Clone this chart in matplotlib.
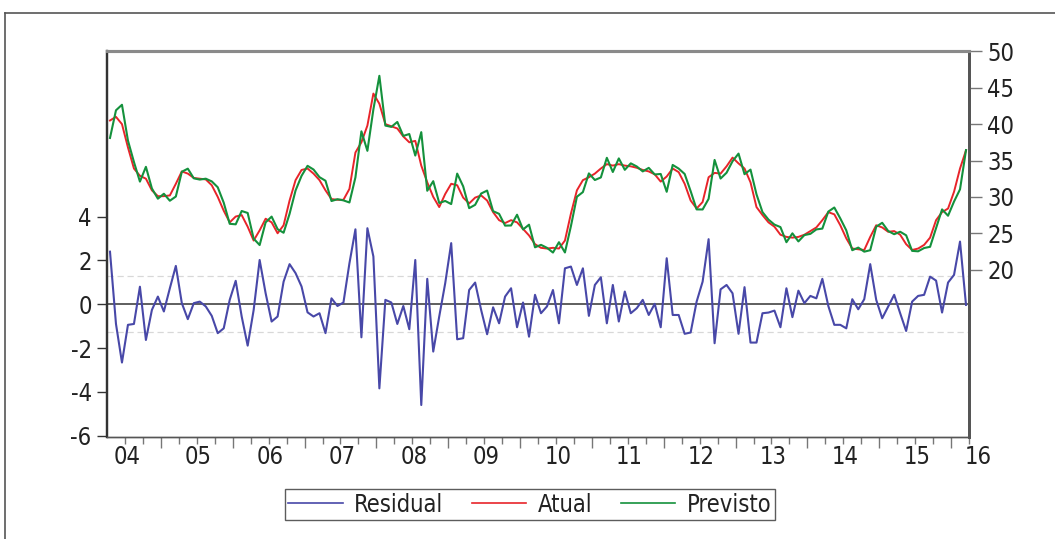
import os
import matplotlib
matplotlib.use("Agg")
import matplotlib.pyplot as plt
from matplotlib import font_manager
from matplotlib.lines import Line2D
import numpy as np

# monthly series, 2004M04 .. 2016M03
atual = [
    40.5, 41.0, 40.0, 36.8, 33.9, 32.9, 32.5, 30.9, 30.1, 30.1,
    30.2, 31.8, 33.5, 33.2, 32.6, 32.5, 32.4, 31.6, 30.0, 28.1,
    26.5, 27.3, 27.5, 25.9, 24.0, 25.4, 27.0, 26.5, 25.0, 26.1,
    29.5, 32.3, 33.7, 33.9, 33.2, 32.3, 30.9, 29.7, 29.6, 29.6,
    31.1, 36.1, 37.5, 39.8, 44.2, 42.8, 40.0, 39.7, 39.4, 38.3,
    37.5, 37.7, 34.3, 32.0, 30.0, 28.6, 30.4, 31.8, 31.6, 29.9,
    29.1, 29.9, 30.2, 29.5, 27.9, 26.8, 26.4, 26.8, 26.5, 25.6,
    24.7, 23.5, 23.0, 22.9, 23.0, 22.9, 24.0, 27.7, 30.9, 32.3,
    32.7, 33.2, 33.9, 34.5, 34.3, 34.5, 34.3, 34.2, 34.0, 33.7,
    33.5, 33.1, 32.1, 32.8, 33.9, 33.4, 31.8, 29.5, 28.4, 29.3,
    32.7, 33.3, 33.2, 34.2, 35.4, 34.6, 33.9, 32.0, 28.6, 27.5,
    26.5, 25.9, 24.8, 24.5, 24.4, 24.5, 24.8, 25.3, 25.8, 26.8,
    27.9, 27.6, 26.1, 24.3, 22.9, 22.8, 22.7, 24.5, 26.1, 25.8,
    25.2, 25.3, 24.8, 23.5, 22.7, 22.9, 23.4, 24.4, 26.8, 27.9,
    28.4, 30.7, 33.9, 36.4,
]

residual = [
    2.40, -0.90, -2.66, -0.94, -0.90, 0.80, -1.63, -0.26, 0.35, -0.33,
    0.73, 1.75, 0.05, -0.68, 0.05, 0.12, -0.10, -0.53, -1.32, -1.10,
    0.20, 1.07, -0.56, -1.89, -0.26, 2.02, 0.50, -0.79, -0.56, 1.03,
    1.83, 1.42, 0.81, -0.37, -0.56, -0.41, -1.32, 0.27, -0.08, 0.08,
    1.87, 3.42, -1.51, 3.47, 2.18, -3.84, 0.20, 0.08, -0.90, -0.08,
    -1.14, 2.02, -4.60, 1.16, -2.16, -0.56, 0.96, 2.79, -1.60, -1.55,
    0.65, 0.99, -0.26, -1.37, -0.14, -0.87, 0.35, 0.73, -1.05, 0.08,
    -1.48, 0.43, -0.41, -0.10, 0.65, -0.87, 1.64, 1.72, 0.88, 1.64,
    -0.53, 0.88, 1.23, -0.87, 0.88, -0.79, 0.58, -0.41, -0.18, 0.20,
    -0.49, 0.02, -1.05, 2.10, -0.49, -0.49, -1.35, -1.29, 0.12, 1.03,
    2.97, -1.78, 0.68, 0.88, 0.50, -1.35, 0.78, -1.75, -1.75, -0.41,
    -0.38, -0.29, -1.05, 0.73, -0.59, 0.62, 0.05, 0.38, 0.27, 1.16,
    -0.08, -0.94, -0.94, -1.10, 0.23, -0.23, 0.23, 1.83, 0.20, -0.64,
    -0.11, 0.43, -0.41, -1.22, 0.12, 0.38, 0.43, 1.26, 1.08, -0.38,
    0.99, 1.34, 2.86, -0.03,
]

year_labels = ['04', '05', '06', '07', '08', '09', '10', '11', '12', '13', '14', '15', '16']
resid_sd = 1.27


def pick_font():
    # prefer a narrow face; otherwise a plain sans with smaller size
    tries = [dict(family='Noto Sans', stretch='condensed'),
             dict(family='Noto Sans', stretch='semi-condensed'),
             dict(family='DejaVu Sans', stretch='condensed'),
             dict(family='Liberation Sans Narrow'),
             dict(family='Open Sans', stretch='condensed')]
    for kw in tries:
        fp = font_manager.FontProperties(**kw)
        try:
            path = font_manager.findfont(fp, fallback_to_default=False)
        except Exception:
            continue
        base = os.path.basename(path).lower()
        if 'condensed' in base or 'narrow' in base:
            return font_manager.FontProperties(fname=path), 17
    return font_manager.FontProperties(family='Liberation Sans'), 15.5


fprop, fsize = pick_font()
fprop.set_size(fsize)

atual = np.array(atual)
residual = np.array(residual)
previsto = atual - residual
t = np.arange(len(atual))

fig = plt.figure(figsize=(10.55, 5.39), dpi=100)
ax = fig.add_axes([107 / 1055, 1 - 437 / 539, (969 - 107) / 1055, (437 - 51) / 539])
ax2 = ax.twinx()

c_res = '#4848a8'
c_act = '#e8242a'
c_fit = '#14913c'

ax.axhline(0, color='#333333', lw=1.1, zorder=1)
ax.axhline(resid_sd, color='#d8d8d8', lw=0.9, ls=(0, (5, 3)), zorder=1)
ax.axhline(-resid_sd, color='#d8d8d8', lw=0.9, ls=(0, (5, 3)), zorder=1)
ax.plot(t, residual, color=c_res, lw=1.5, zorder=2)

ax2.plot(t, atual, color=c_act, lw=1.4)
ax2.plot(t, previsto, color=c_fit, lw=1.5)

ax.set_xlim(-0.5, len(t) - 0.5)
ax.set_ylim(-6.06, 11.56)
ax2.set_ylim(-3.0, 50.05)

ax.set_yticks([-6, -4, -2, 0, 2, 4])
ax.set_yticklabels(['-6', '-4', '-2', '0', '2', '4'])
ax2.set_yticks([20, 25, 30, 35, 40, 45, 50])

# quarter ticks and longer year ticks on the time axis
ax.set_xticks(np.arange(8.5, len(t), 12))
ax.set_xticks(np.arange(2.5, len(t), 3), minor=True)
ax.set_xticklabels([])
ax.tick_params(axis='x', which='major', length=8, width=1, color='#777777', direction='out')
ax.tick_params(axis='x', which='minor', length=5, width=1, color='#777777', direction='out')
ax.tick_params(axis='y', length=7, width=1, color='#333333', pad=4)
ax2.tick_params(axis='y', length=9, width=1, color='#777777', pad=4)
ax2.tick_params(axis='x', length=0)
for lab in ax.get_yticklabels() + ax2.get_yticklabels():
    lab.set_fontproperties(fprop)
    lab.set_color('#222222')

for k, lab in enumerate(year_labels):
    xpos = -3.5 + 12 * k + 6.3
    if lab == '16':
        xpos = 145.0
    ax.text(xpos, -0.02, lab, transform=ax.get_xaxis_transform(), ha='center', va='top',
            fontproperties=fprop, color='#222222', clip_on=False)

for a in (ax, ax2):
    a.spines['top'].set_color('#8a8a8a')
    a.spines['top'].set_linewidth(2.2)
    a.spines['bottom'].set_color('#555555')
    a.spines['bottom'].set_linewidth(1.0)
    a.spines['left'].set_color('#333333')
    a.spines['left'].set_linewidth(1.6)
    a.spines['right'].set_color('#555555')
    a.spines['right'].set_linewidth(2.0)

# outer frame
fig.add_artist(Line2D([5 / 1055, 1.0], [1 - 13 / 539] * 2, color='#555555', lw=1.2))
fig.add_artist(Line2D([5 / 1055] * 2, [0.0, 1 - 13 / 539], color='#555555', lw=1.2))

handles = [Line2D([], [], color=c_res, lw=1.2),
           Line2D([], [], color=c_act, lw=1.2),
           Line2D([], [], color=c_fit, lw=1.2)]
leg = fig.legend(handles, ['Residual', 'Atual', 'Previsto'], ncol=3, loc='center',
                 bbox_to_anchor=(530 / 1055, 1 - 504.5 / 539), prop=fprop, frameon=True,
                 fancybox=False, edgecolor='#333333', handlelength=2.3, handletextpad=0.5,
                 columnspacing=1.2, borderpad=0.15, borderaxespad=0)
leg.get_frame().set_linewidth(1.0)
for txt in leg.get_texts():
    txt.set_color('#222222')

fig.savefig('out.png', dpi=100)
